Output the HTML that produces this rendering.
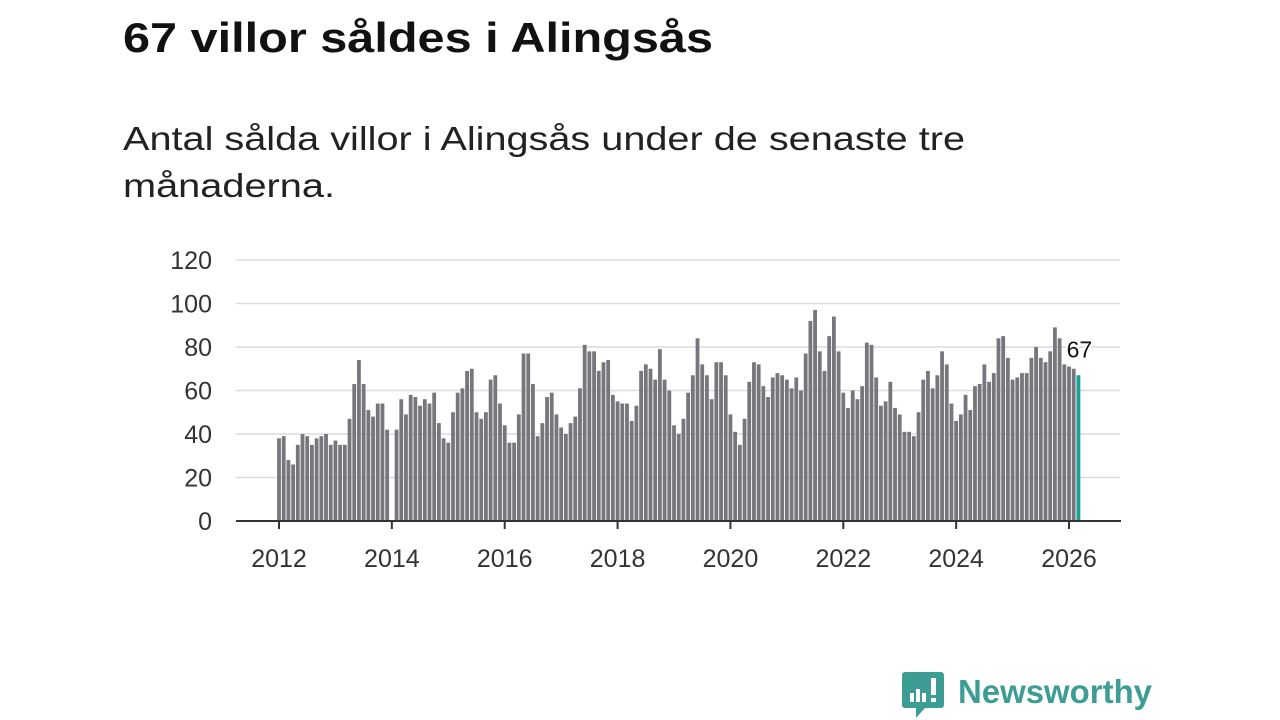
<!DOCTYPE html>
<html><head><meta charset="utf-8"><style>
html,body{margin:0;padding:0;background:#fff;width:1280px;height:720px;overflow:hidden}
svg{display:block;font-family:"Liberation Sans",sans-serif}
</style></head><body>
<svg id="chart" width="1280" height="720" viewBox="0 0 1280 720">
<text x="123" y="52" font-size="42" font-weight="bold" fill="#111" textLength="590" lengthAdjust="spacingAndGlyphs">67 villor såldes i Alingsås</text>
<text x="123" y="150" font-size="33" fill="#222" textLength="842" lengthAdjust="spacingAndGlyphs">Antal sålda villor i Alingsås under de senaste tre</text>
<text x="123" y="197" font-size="33" fill="#222" textLength="212" lengthAdjust="spacingAndGlyphs">månaderna.</text>
<g id="grid"></g>
<g id="yticks"></g>
<g id="bars"></g>
<g id="xticks"></g>
<g id="annot"></g>
<g>
<path d="M905 672 h36 a3 3 0 0 1 3 3 v30 a3 3 0 0 1 -3 3 h-16 l-9 10 v-10 h-11 a3 3 0 0 1 -3 -3 v-30 a3 3 0 0 1 3 -3z" fill="#3d9d95"/>
<rect x="910" y="693" width="4" height="9" fill="#fff"/><rect x="916" y="689" width="4" height="13" fill="#fff"/><rect x="922" y="693" width="4" height="9" fill="#fff"/><rect x="931" y="678" width="5" height="17" fill="#fff"/><rect x="931" y="698" width="5" height="4" fill="#fff"/>
<text x="958" y="703" font-size="33" font-weight="bold" fill="#3d9d95" textLength="194" lengthAdjust="spacingAndGlyphs">Newsworthy</text>
</g>
</svg>
<script>
const yTicks=[0,20,40,60,80,100,120];
const xTickYears=[2012,2014,2016,2018,2020,2022,2024,2026];
const startYear=2012;
const values=[
38,39,28,26,35,40,39,35,38,39,40,35,
37,35,35,47,63,74,63,51,48,54,54,42,
0,42,56,49,58,57,53,56,54,59,45,38,
36,50,59,61,69,70,50,47,50,65,67,54,
44,36,36,49,77,77,63,39,45,57,59,49,
43,40,45,48,61,81,78,78,69,73,74,58,
55,54,54,46,53,69,72,70,65,79,65,60,
44,40,47,59,67,84,72,67,56,73,73,67,
49,41,35,47,64,73,72,62,57,66,68,67,
65,61,66,60,77,92,97,78,69,85,94,78,
59,52,60,56,62,82,81,66,53,55,64,52,
49,41,41,39,50,65,69,61,67,78,72,54,
46,49,58,51,62,63,72,64,68,84,85,75,
65,66,68,68,75,80,75,73,78,89,84,72,
71,70,67];
const NS="http://www.w3.org/2000/svg";
const x0=279, pxYear=56.43, pxMonth=pxYear/12;
const xScale=i=>x0+i*pxMonth;
const yScale=v=>521-v*(261/120);
function mk(tag,attrs,parent){const e=document.createElementNS(NS,tag);for(const k in attrs)e.setAttribute(k,attrs[k]);parent.appendChild(e);return e;}
const grid=document.getElementById('grid'),yt=document.getElementById('yticks'),bars=document.getElementById('bars'),xt=document.getElementById('xticks'),an=document.getElementById('annot');
yTicks.forEach(v=>{
 if(v>0){const l=mk('line',{x1:236,x2:1120,y1:yScale(v),y2:yScale(v),stroke:'#dcdcdc','stroke-width':1.5},grid);
 
 }
 const t=mk('text',{x:212,y:yScale(v)+9,'font-size':25,fill:'#333','text-anchor':'end'},yt);t.textContent=v;
 
 
});
values.forEach((v,i)=>{
 const last=i===values.length-1;
 const r=mk('rect',{x:xScale(i)-1.9,y:yScale(v),width:3.8,height:521-yScale(v),fill:last?'#1a9e96':'#77767c'},bars);
 
 
});
const ax=mk('line',{x1:236,x2:1121,y1:521,y2:521,stroke:'#333','stroke-width':2},xt);


xTickYears.forEach(y=>{
 const x=xScale((y-startYear)*12);
 mk('line',{x1:x,x2:x,y1:521,y2:529,stroke:'#333','stroke-width':2},xt);
 const t=mk('text',{x:x,y:567,'font-size':25,fill:'#333','text-anchor':'middle'},xt);t.textContent=y;
 
 
});
const li=values.length-1;
const lt=mk('text',{x:xScale(li)+1,y:yScale(values[li])-18,'font-size':23,fill:'#111','text-anchor':'middle',stroke:'#fff','stroke-width':4,'paint-order':'stroke'},an);
lt.textContent=values[li];


</script>
</body></html>
